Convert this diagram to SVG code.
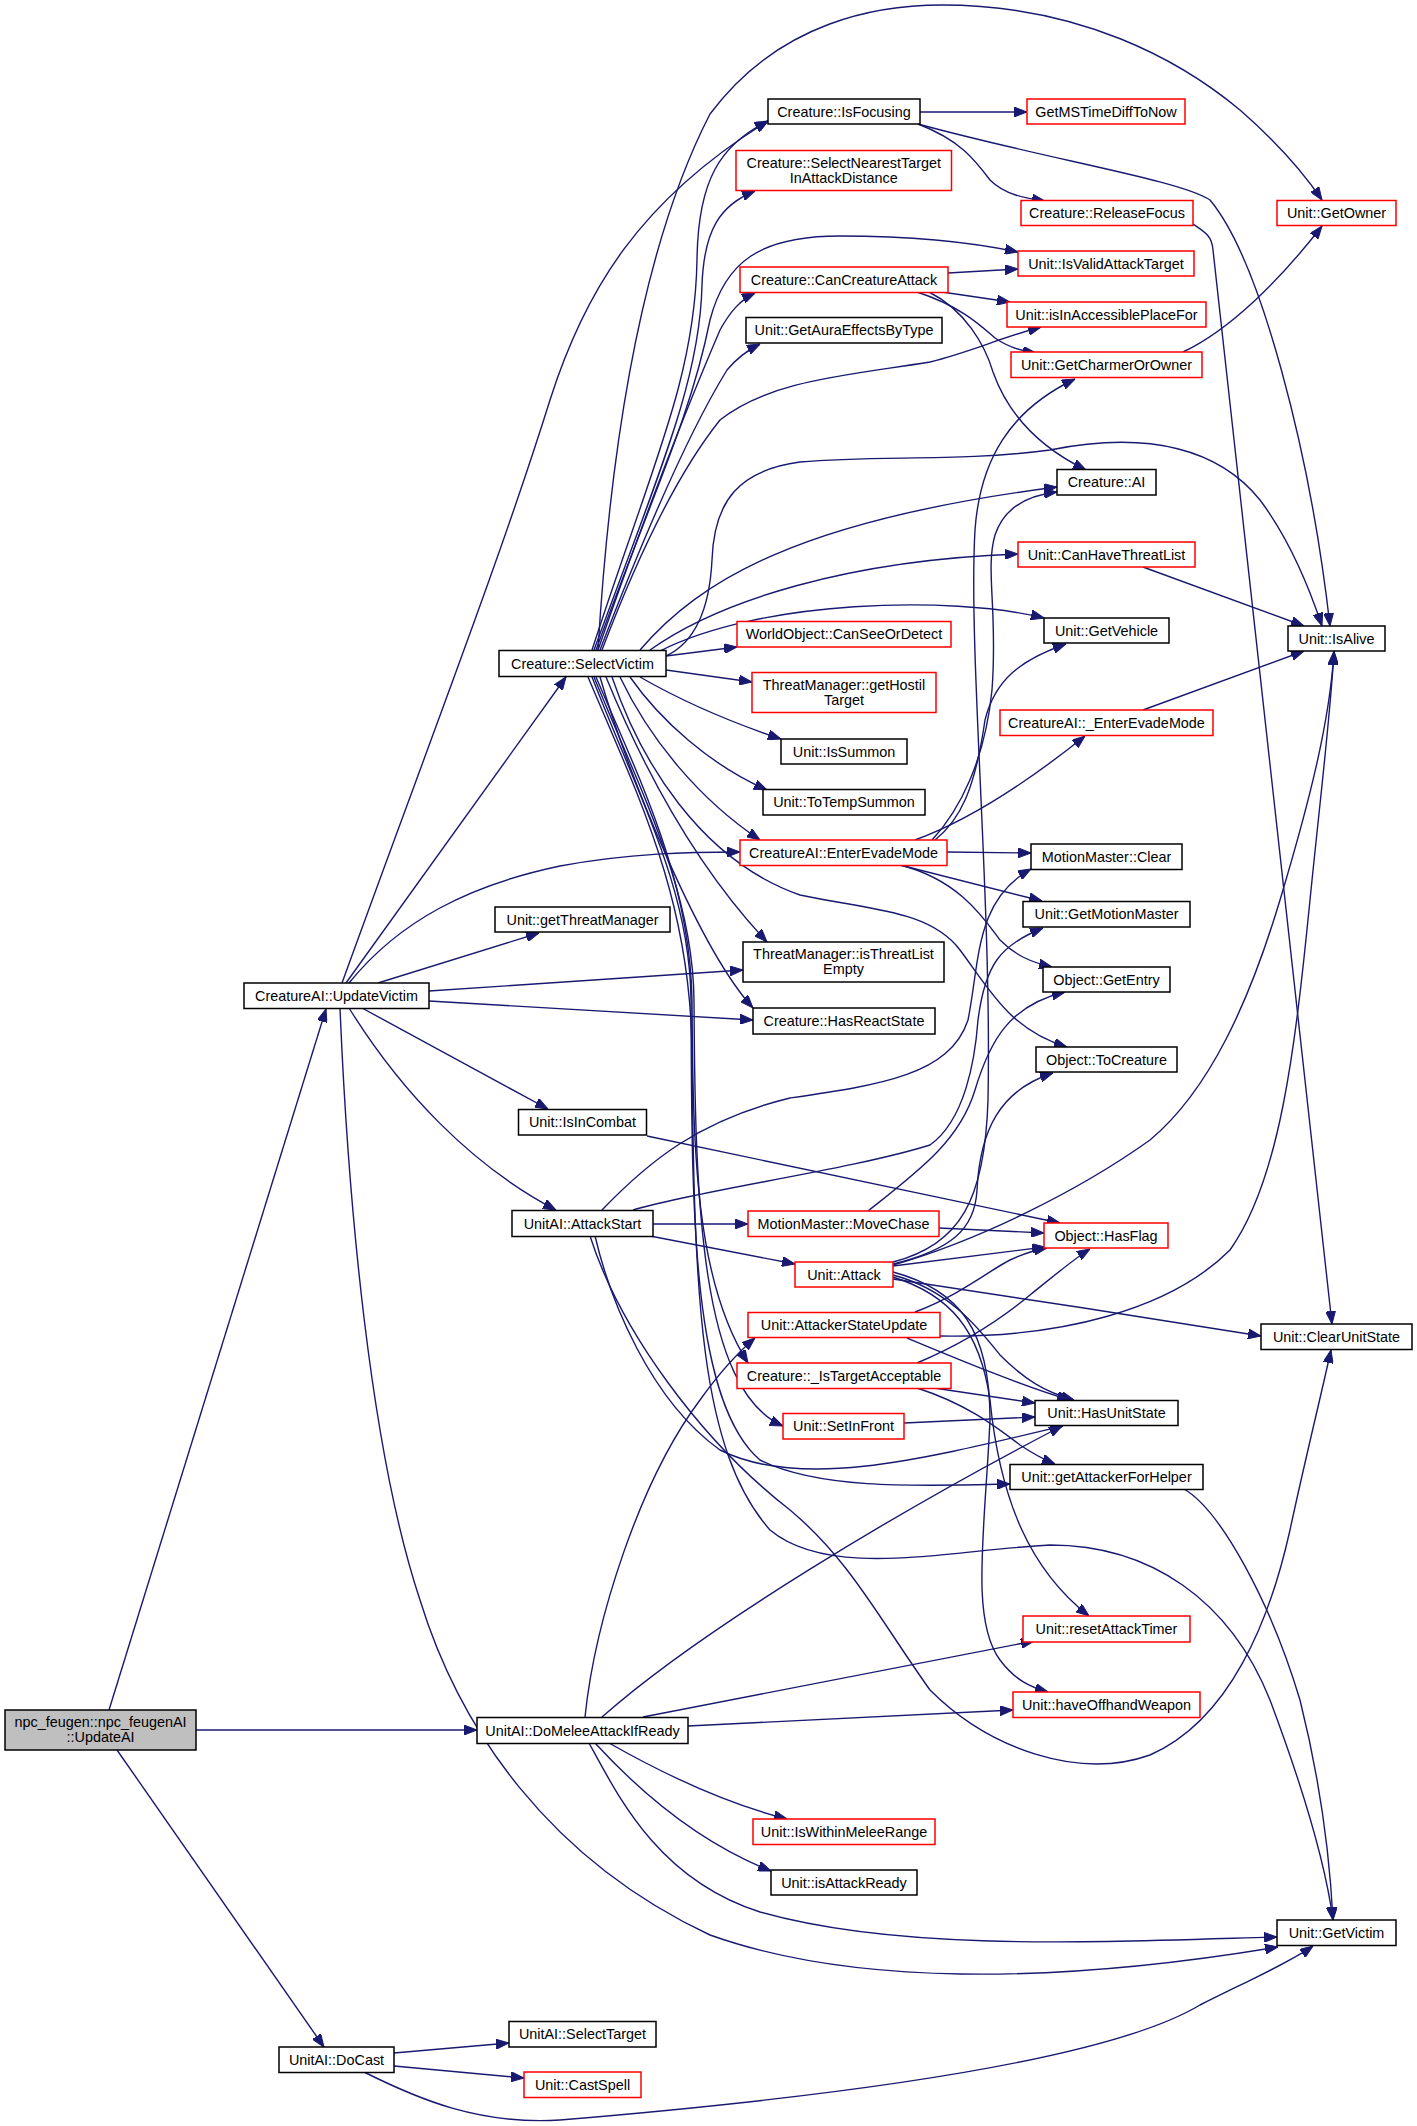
<svg xmlns="http://www.w3.org/2000/svg" width="1417" height="2126" viewBox="0 0 1417 2126">
<style>
.e{fill:none;stroke:#191970;stroke-width:1.4;marker-end:url(#ah)}
.n rect{fill:#fff;stroke:#000;stroke-width:1.5}
.n.r rect{stroke:#ff0000}
.n.g rect{fill:#bfbfbf}
.n text{font-family:"Liberation Sans",Arial,sans-serif;font-size:14.4px;fill:#000;text-anchor:middle}
</style>
<defs>
<marker id="ah" markerWidth="13" markerHeight="10" refX="13" refY="5" orient="auto" markerUnits="userSpaceOnUse">
<path d="M0,0 L13,5 L0,10 z" fill="#191970" stroke="#191970" stroke-width="1"/>
</marker>
</defs>
<rect width="1417" height="2126" fill="#fff"/>
<g id="edges">
<path class="e" d="M109,1710 L326,1009"/>
<path class="e" d="M196,1730 L477,1730"/>
<path class="e" d="M117,1750 L324,2047"/>
<path class="e" d="M342,983 C430,740 500,560 550,400 C585,290 640,200 768,121"/>
<path class="e" d="M346,983 L566,677"/>
<path class="e" d="M378,983 L539,933"/>
<path class="e" d="M349,983 C400,920 470,885 560,866 C630,853 690,852 740,852"/>
<path class="e" d="M429,991 L743,970"/>
<path class="e" d="M429,1001 L753,1020"/>
<path class="e" d="M362,1008 C420,1040 485,1075 548,1109"/>
<path class="e" d="M349,1008 C400,1090 470,1165 556,1210"/>
<path class="e" d="M340,1008 C348,1200 370,1450 420,1600 C460,1730 550,1860 710,1935 C850,1985 1050,1985 1278,1947"/>
<path class="e" d="M394,2053 L509,2043"/>
<path class="e" d="M394,2066 L524,2078"/>
<path class="e" d="M364,2072 C420,2100 480,2125 560,2120 C800,2100 1100,2065 1200,2005 C1250,1980 1290,1962 1313,1946"/>
<path class="e" d="M585,1717 C595,1620 640,1480 700,1400 C720,1372 735,1355 755,1338"/>
<path class="e" d="M602,1717 C700,1630 900,1510 1062,1426"/>
<path class="e" d="M643,1717 L1034,1641"/>
<path class="e" d="M688,1726 L1013,1710"/>
<path class="e" d="M609,1743 C660,1772 720,1802 787,1819"/>
<path class="e" d="M595,1743 C640,1792 700,1843 771,1871"/>
<path class="e" d="M589,1743 C620,1800 660,1880 760,1912 C900,1952 1100,1942 1277,1937"/>
<path class="e" d="M653,1224 L748,1224"/>
<path class="e" d="M650,1236 L795,1264"/>
<path class="e" d="M602,1210 C650,1160 700,1120 790,1098 C880,1085 950,1075 968,1020 C980,960 975,900 1031,869"/>
<path class="e" d="M633,1210 C700,1190 850,1170 930,1145 C965,1120 975,1060 978,1020 C985,965 1000,945 1043,928"/>
<path class="e" d="M595,1236 C610,1300 650,1400 720,1450 C800,1490 920,1460 1063,1426"/>
<path class="e" d="M590,1236 C620,1330 700,1440 790,1510 C850,1560 880,1620 930,1690 C990,1750 1080,1780 1150,1755 C1230,1720 1270,1620 1290,1530 C1305,1460 1320,1400 1331,1350"/>
<path class="e" d="M598,650 C610,450 640,250 710,114 C780,20 880,5 942,5 C1080,5 1180,60 1240,110 C1280,145 1305,175 1322,200"/>
<path class="e" d="M592,650 C650,470 695,380 697,260 C698,180 720,145 768,121"/>
<path class="e" d="M594,650 C660,470 700,380 702,285 C704,230 720,205 755,191"/>
<path class="e" d="M596,650 C650,500 690,420 710,320 C725,262 760,236 840,236 C920,236 980,244 1018,252"/>
<path class="e" d="M598,650 C650,500 690,400 720,330 C730,312 740,300 755,293"/>
<path class="e" d="M600,650 C650,520 690,430 727,370 C737,358 748,350 760,344"/>
<path class="e" d="M602,650 C640,550 680,470 720,420 C770,380 850,375 930,362 C970,352 1000,338 1041,327"/>
<path class="e" d="M666,656 C700,640 710,600 712,560 C714,500 740,470 800,462 C880,455 960,462 1050,450 C1150,430 1220,450 1260,500 C1290,540 1310,590 1322,626"/>
<path class="e" d="M640,650 C700,580 800,520 1057,487"/>
<path class="e" d="M650,650 C720,600 850,560 1018,554"/>
<path class="e" d="M660,651 C760,600 950,595 1044,618"/>
<path class="e" d="M666,656 L737,647"/>
<path class="e" d="M666,670 L752,682"/>
<path class="e" d="M640,677 C680,700 730,722 781,739"/>
<path class="e" d="M630,677 C660,720 710,765 767,790"/>
<path class="e" d="M620,677 C650,740 700,800 760,840"/>
<path class="e" d="M612,677 C640,760 700,860 800,895 C870,910 930,910 960,950 C990,990 1010,1030 1067,1047"/>
<path class="e" d="M606,677 C640,760 690,860 767,942"/>
<path class="e" d="M600,677 C630,780 700,950 753,1008"/>
<path class="e" d="M596,677 C640,780 690,880 692,1000 C693,1150 695,1280 748,1363"/>
<path class="e" d="M594,677 C640,790 693,890 694,1000 C695,1200 700,1390 783,1426"/>
<path class="e" d="M592,677 C640,800 690,890 691,1000 C692,1200 690,1400 760,1460 C820,1490 920,1486 1010,1484"/>
<path class="e" d="M588,677 C640,800 690,900 692,1050 C694,1300 700,1450 770,1530 C830,1580 950,1550 1050,1545 C1150,1545 1230,1600 1270,1700 C1300,1780 1325,1860 1333,1920"/>
<path class="e" d="M893,1266 L1045,1247"/>
<path class="e" d="M893,1264 C950,1250 975,1230 977,1190 C980,1130 1000,1090 1053,1073"/>
<path class="e" d="M893,1262 C960,1245 985,1200 988,1100 C992,900 968,650 975,530 C980,460 1010,410 1075,379"/>
<path class="e" d="M893,1265 C980,1240 1080,1190 1150,1140 C1210,1090 1250,1000 1280,900 C1310,800 1330,720 1334,651"/>
<path class="e" d="M893,1275 C950,1290 980,1330 1000,1355 C1025,1380 1045,1392 1074,1400"/>
<path class="e" d="M893,1279 C1000,1295 1150,1318 1261,1336"/>
<path class="e" d="M893,1277 C950,1295 980,1330 990,1400 C1000,1500 1030,1570 1089,1616"/>
<path class="e" d="M893,1272 C960,1290 990,1330 990,1420 C985,1530 970,1620 1000,1660 C1015,1680 1030,1687 1048,1692"/>
<path class="e" d="M915,1312 C960,1295 990,1270 1010,1260 C1025,1253 1035,1250 1047,1248"/>
<path class="e" d="M940,1336 C1060,1338 1170,1310 1230,1250 C1280,1180 1295,1050 1310,900 C1320,800 1330,720 1334,652"/>
<path class="e" d="M907,1338 C960,1360 1020,1385 1070,1400"/>
<path class="e" d="M917,1363 C960,1345 1000,1320 1030,1295 C1055,1275 1075,1258 1090,1249"/>
<path class="e" d="M934,1388 L1035,1403"/>
<path class="e" d="M917,1388 C970,1405 1000,1430 1020,1445 C1035,1455 1045,1460 1055,1464"/>
<path class="e" d="M904,1423 L1035,1417"/>
<path class="e" d="M939,1228 L1044,1233"/>
<path class="e" d="M868,1211 C920,1170 960,1140 975,1090 C990,1040 1010,1005 1065,992"/>
<path class="e" d="M647,1136 L1060,1223"/>
<path class="e" d="M947,852 L1031,853"/>
<path class="e" d="M900,865 L1042,901"/>
<path class="e" d="M900,865 C960,880 985,920 1000,940 C1015,955 1030,962 1052,967"/>
<path class="e" d="M915,840 C970,820 1030,780 1085,736"/>
<path class="e" d="M935,840 C960,820 975,790 985,720 C995,680 1020,660 1066,644"/>
<path class="e" d="M932,840 C960,810 985,760 992,690 C998,610 985,570 995,535 C1005,505 1030,495 1057,492"/>
<path class="e" d="M948,273 L1018,269"/>
<path class="e" d="M942,292 L1010,302"/>
<path class="e" d="M917,292 C960,306 980,325 995,338 C1008,347 1020,351 1036,353"/>
<path class="e" d="M929,292 C965,310 985,345 993,372 C1010,420 1045,450 1086,470"/>
<path class="e" d="M920,112 L1027,112"/>
<path class="e" d="M918,124 C960,140 975,160 990,180 C1005,195 1025,198 1045,201"/>
<path class="e" d="M918,124 C1050,160 1180,180 1210,200 C1260,260 1310,450 1330,626"/>
<path class="e" d="M1193,224 C1205,232 1212,236 1213,250 L1332,1324"/>
<path class="e" d="M1183,352 C1230,330 1280,280 1322,226"/>
<path class="e" d="M1143,567 L1304,626"/>
<path class="e" d="M1143,710 L1304,651"/>
<path class="e" d="M1184,1489 C1220,1510 1270,1600 1300,1700 C1320,1780 1330,1860 1333,1920"/>
</g>
<g id="n_updateai" class="n g"><rect x="5" y="1710" width="191" height="40"/><text x="100.5" y="1727">npc_feugen::npc_feugenAI</text><text x="100.5" y="1742">::UpdateAI</text></g>
<g id="n_updatevictim" class="n"><rect x="244" y="983" width="185" height="25.5"/><text x="336.5" y="1000.8">CreatureAI::UpdateVictim</text></g>
<g id="n_domelee" class="n"><rect x="477" y="1717.5" width="211" height="26"/><text x="582.5" y="1735.5">UnitAI::DoMeleeAttackIfReady</text></g>
<g id="n_docast" class="n"><rect x="279" y="2047" width="115" height="25.5"/><text x="336.5" y="2064.8">UnitAI::DoCast</text></g>
<g id="n_selectvictim" class="n"><rect x="499" y="650.5" width="167" height="26"/><text x="582.5" y="668.5">Creature::SelectVictim</text></g>
<g id="n_getthreatmanager" class="n"><rect x="495" y="907" width="175" height="25"/><text x="582.5" y="924.5">Unit::getThreatManager</text></g>
<g id="n_isincombat" class="n"><rect x="518.5" y="1109.5" width="128" height="25.5"/><text x="582.5" y="1127.3">Unit::IsInCombat</text></g>
<g id="n_attackstart" class="n"><rect x="512" y="1210.5" width="141" height="26"/><text x="582.5" y="1228.5">UnitAI::AttackStart</text></g>
<g id="n_selecttarget" class="n"><rect x="509" y="2021.5" width="147" height="25.5"/><text x="582.5" y="2039.3">UnitAI::SelectTarget</text></g>
<g id="n_castspell" class="n r"><rect x="524" y="2072" width="117" height="25.5"/><text x="582.5" y="2089.8">Unit::CastSpell</text></g>
<g id="n_isfocusing" class="n"><rect x="768" y="99" width="152" height="25"/><text x="844" y="116.5">Creature::IsFocusing</text></g>
<g id="n_selectnearest" class="n r"><rect x="736" y="150.5" width="215.5" height="40"/><text x="843.75" y="167.5">Creature::SelectNearestTarget</text><text x="843.75" y="182.5">InAttackDistance</text></g>
<g id="n_cancreatureattack" class="n r"><rect x="740" y="267" width="208" height="25.5"/><text x="844" y="284.8">Creature::CanCreatureAttack</text></g>
<g id="n_getauraeffects" class="n"><rect x="746" y="317.5" width="196" height="25.5"/><text x="844" y="335.3">Unit::GetAuraEffectsByType</text></g>
<g id="n_canseeordetect" class="n r"><rect x="737" y="621.5" width="214" height="25.5"/><text x="844" y="639.3">WorldObject::CanSeeOrDetect</text></g>
<g id="n_gethostiltarget" class="n r"><rect x="752" y="672.5" width="184" height="40"/><text x="844" y="689.5">ThreatManager::getHostil</text><text x="844" y="704.5">Target</text></g>
<g id="n_issummon" class="n"><rect x="781" y="739" width="126" height="25"/><text x="844" y="756.5">Unit::IsSummon</text></g>
<g id="n_totempsummon" class="n"><rect x="763" y="789.5" width="162" height="25.5"/><text x="844" y="807.3">Unit::ToTempSummon</text></g>
<g id="n_enterevademode" class="n r"><rect x="740" y="840" width="207" height="25.5"/><text x="843.5" y="857.8">CreatureAI::EnterEvadeMode</text></g>
<g id="n_isthreatlistempty" class="n"><rect x="743" y="942" width="201" height="40"/><text x="843.5" y="959">ThreatManager::isThreatList</text><text x="843.5" y="974">Empty</text></g>
<g id="n_hasreactstate" class="n"><rect x="753" y="1008" width="182" height="26"/><text x="844" y="1026">Creature::HasReactState</text></g>
<g id="n_movechase" class="n r"><rect x="748" y="1211" width="191" height="25.5"/><text x="843.5" y="1228.8">MotionMaster::MoveChase</text></g>
<g id="n_attack" class="n r"><rect x="795" y="1262" width="98" height="25"/><text x="844" y="1279.5">Unit::Attack</text></g>
<g id="n_attackerstateupdate" class="n r"><rect x="748" y="1312.5" width="192" height="25"/><text x="844" y="1330">Unit::AttackerStateUpdate</text></g>
<g id="n_istargetacceptable" class="n r"><rect x="737" y="1363" width="214" height="25.5"/><text x="844" y="1380.8">Creature::_IsTargetAcceptable</text></g>
<g id="n_setinfront" class="n r"><rect x="783" y="1413.5" width="121" height="25.5"/><text x="843.5" y="1431.3">Unit::SetInFront</text></g>
<g id="n_iswithinmeleerange" class="n r"><rect x="753" y="1819" width="182" height="25.5"/><text x="844" y="1836.8">Unit::IsWithinMeleeRange</text></g>
<g id="n_isattackready" class="n"><rect x="771" y="1870" width="146" height="25"/><text x="844" y="1887.5">Unit::isAttackReady</text></g>
<g id="n_getmstimediff" class="n r"><rect x="1027" y="99" width="158" height="25"/><text x="1106" y="116.5">GetMSTimeDiffToNow</text></g>
<g id="n_releasefocus" class="n r"><rect x="1021" y="200.5" width="172" height="25"/><text x="1107" y="218">Creature::ReleaseFocus</text></g>
<g id="n_isvalidattacktarget" class="n r"><rect x="1018" y="251" width="176" height="25"/><text x="1106" y="268.5">Unit::IsValidAttackTarget</text></g>
<g id="n_isinaccessible" class="n r"><rect x="1007" y="302" width="199" height="25"/><text x="1106.5" y="319.5">Unit::isInAccessiblePlaceFor</text></g>
<g id="n_getcharmerorowner" class="n r"><rect x="1011" y="352" width="191" height="25.5"/><text x="1106.5" y="369.8">Unit::GetCharmerOrOwner</text></g>
<g id="n_creatureai" class="n"><rect x="1057" y="469.5" width="99" height="25.5"/><text x="1106.5" y="487.3">Creature::AI</text></g>
<g id="n_canhavethreatlist" class="n r"><rect x="1018" y="542" width="177" height="25"/><text x="1106.5" y="559.5">Unit::CanHaveThreatList</text></g>
<g id="n_getvehicle" class="n"><rect x="1044" y="618" width="125" height="25"/><text x="1106.5" y="635.5">Unit::GetVehicle</text></g>
<g id="n__enterevademode" class="n r"><rect x="1000" y="710" width="213" height="25.5"/><text x="1106.5" y="727.8">CreatureAI::_EnterEvadeMode</text></g>
<g id="n_motionmasterclear" class="n"><rect x="1031" y="844" width="151" height="25.5"/><text x="1106.5" y="861.8">MotionMaster::Clear</text></g>
<g id="n_getmotionmaster" class="n"><rect x="1023" y="901.5" width="167" height="25.5"/><text x="1106.5" y="919.3">Unit::GetMotionMaster</text></g>
<g id="n_getentry" class="n"><rect x="1043" y="967" width="127" height="25"/><text x="1106.5" y="984.5">Object::GetEntry</text></g>
<g id="n_tocreature" class="n"><rect x="1036" y="1047" width="141" height="25"/><text x="1106.5" y="1064.5">Object::ToCreature</text></g>
<g id="n_hasflag" class="n r"><rect x="1044" y="1223" width="124" height="25"/><text x="1106" y="1240.5">Object::HasFlag</text></g>
<g id="n_hasunitstate" class="n"><rect x="1035" y="1400.5" width="143" height="25"/><text x="1106.5" y="1418">Unit::HasUnitState</text></g>
<g id="n_getattackerforhelper" class="n"><rect x="1010" y="1464.5" width="193" height="25"/><text x="1106.5" y="1482">Unit::getAttackerForHelper</text></g>
<g id="n_resetattacktimer" class="n r"><rect x="1023" y="1616" width="167" height="26"/><text x="1106.5" y="1634">Unit::resetAttackTimer</text></g>
<g id="n_haveoffhandweapon" class="n r"><rect x="1013" y="1692" width="187" height="25.5"/><text x="1106.5" y="1709.8">Unit::haveOffhandWeapon</text></g>
<g id="n_getowner" class="n r"><rect x="1277" y="200.5" width="119" height="25"/><text x="1336.5" y="218">Unit::GetOwner</text></g>
<g id="n_isalive" class="n"><rect x="1288" y="626" width="97" height="25"/><text x="1336.5" y="643.5">Unit::IsAlive</text></g>
<g id="n_clearunitstate" class="n"><rect x="1261" y="1324" width="151" height="25.5"/><text x="1336.5" y="1341.8">Unit::ClearUnitState</text></g>
<g id="n_getvictim" class="n"><rect x="1277" y="1920" width="119" height="25.5"/><text x="1336.5" y="1937.8">Unit::GetVictim</text></g>
</svg>
